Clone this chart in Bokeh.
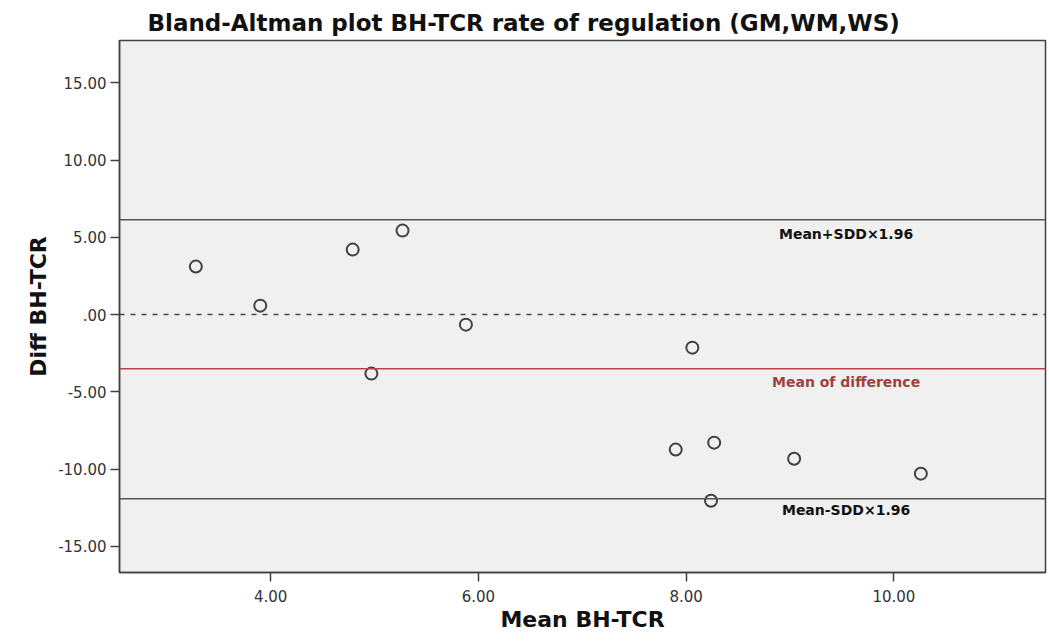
from bokeh.plotting import figure
from bokeh.models import FixedTicker, Span, Label, Title
from bokeh.embed import file_html
from bokeh.resources import INLINE

# Data
mean_vals = [3.28, 3.90, 4.79, 5.27, 4.97, 5.88, 8.06, 7.90, 8.27, 8.24, 9.04, 10.26]
diff_vals = [3.11, 0.58, 4.21, 5.44, -3.82, -0.65, -2.14, -8.74, -8.29, -12.05, -9.33, -10.30]
upper_loa = 6.15
mean_diff = -3.50
lower_loa = -11.92
x_ticks = [4, 6, 8, 10]
x_tick_labels = ["4.00", "6.00", "8.00", "10.00"]
y_ticks = [-15, -10, -5, 0, 5, 10, 15]
y_tick_labels = ["-15.00", "-10.00", "-5.00", ".00", "5.00", "10.00", "15.00"]

FONT = "DejaVu Sans"

p = figure(width=1049, height=641, output_backend="svg", toolbar_location=None,
           x_range=(2.545, 11.46), y_range=(-16.7, 17.75),
           min_border_left=119, min_border_right=4, min_border_top=40, min_border_bottom=69)
p.background_fill_color = "#f0f0f0"
p.border_fill_color = "white"
p.outline_line_color = "#404040"
p.outline_line_width = 1.5
p.grid.visible = False

t = Title(text="Bland-Altman plot BH-TCR rate of regulation (GM,WM,WS)", align="left",
          offset=28, text_font=FONT, text_font_size="23px", text_font_style="bold",
          text_color="#111111", standoff=10)
p.add_layout(t, "above")

for ax in (p.xaxis[0], p.yaxis[0]):
    ax.axis_line_color = "#404040"
    ax.axis_line_width = 1.5
    ax.major_tick_line_color = "#404040"
    ax.major_tick_line_width = 1.5
    ax.major_tick_out = 9
    ax.major_tick_in = 0
    ax.minor_tick_line_color = None
    ax.major_label_text_font = FONT
    ax.major_label_text_font_size = "15px"
    ax.major_label_text_color = "#333333"
    ax.axis_label_text_font = FONT
    ax.axis_label_text_font_size = "22px"
    ax.axis_label_text_font_style = "bold"
    ax.axis_label_text_color = "#111111"

p.xaxis.ticker = FixedTicker(ticks=x_ticks)
p.xaxis.major_label_overrides = dict(zip(x_ticks, x_tick_labels))
p.yaxis.ticker = FixedTicker(ticks=y_ticks)
p.yaxis.major_label_overrides = dict(zip(y_ticks, y_tick_labels))
p.xaxis.axis_label = "Mean BH-TCR"
p.yaxis.axis_label = "Diff BH-TCR"
p.xaxis.major_label_standoff = 8
p.xaxis.axis_label_standoff = 2
p.yaxis.major_label_standoff = 4
p.yaxis.axis_label_standoff = 4

p.add_layout(Span(location=upper_loa, dimension="width", line_color="#555555", line_width=1.5))
p.add_layout(Span(location=lower_loa, dimension="width", line_color="#555555", line_width=1.5))
p.add_layout(Span(location=mean_diff, dimension="width", line_color="#b5434a", line_width=1.5))
p.add_layout(Span(location=0, dimension="width", line_color="#444444", line_width=1.5, line_dash="5 6"))

p.scatter(mean_vals, diff_vals, marker="circle", size=12, fill_color="#f0f0f0",
          line_color="#404040", line_width=2)

lbl_x = 9.54
for txt, yv, col in [("Mean+SDD×1.96", 5.25, "#111111"),
                     ("Mean of difference", -4.34, "#a0403f"),
                     ("Mean-SDD×1.96", -12.63, "#111111")]:
    p.add_layout(Label(x=lbl_x, y=yv, text=txt, text_align="center", text_baseline="middle",
                       text_font=FONT, text_font_size="14px", text_font_style="bold",
                       text_color=col))

open("out.html", "w").write(file_html(p, INLINE))
